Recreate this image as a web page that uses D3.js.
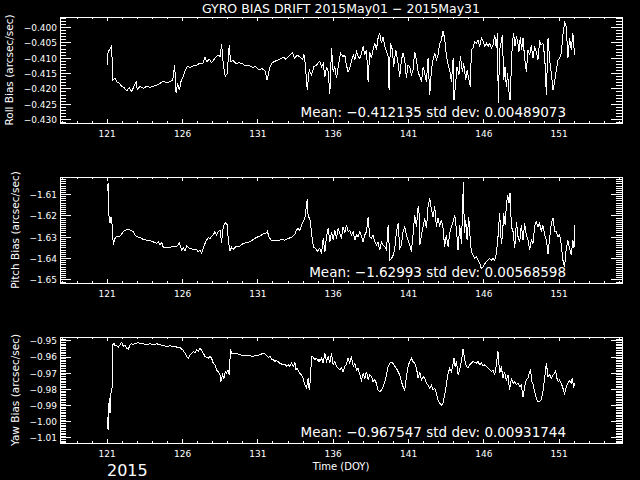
<!DOCTYPE html>
<html>
<head>
<meta charset="utf-8">
<script src="https://cdn.jsdelivr.net/npm/d3@7"></script>
<style>
  html, body { margin: 0; padding: 0; background: #000; }
  svg { display: block; background: #000; }
  text { font-family: "DejaVu Sans", sans-serif; fill: #fff; }
</style>
</head>
<body>
<svg id="chart" width="640" height="480"></svg>
<script>
const width = 640;
const height = 480;
const svg = d3.select('#chart');

// Labels and ticks
const titleText = 'GYRO BIAS DRIFT 2015May01 \u2212 2015May31';
const xLabel = 'Time (DOY)';
const yearLabel = '2015';
const xDomain = [117.9, 155.2];
const xTicks = [121, 126, 131, 136, 141, 146, 151];

const panelLabels = ['Roll Bias (arcsec/sec)', 'Pitch Bias (arcsec/sec)', 'Yaw Bias (arcsec/sec)'];
const meanValues = ['\u22120.412135', '\u22121.62993', '\u22120.967547'];
const stdValues = ['0.00489073', '0.00568598', '0.00931744'];

const rollDomain = [-0.4313, -0.3967];
const pitchDomain = [-1.6517, -1.602];
const yawDomain = [-1.0134, -0.9479];
const rollTicks = [-0.430, -0.425, -0.420, -0.415, -0.410, -0.405, -0.400];
const pitchTicks = [-1.65, -1.64, -1.63, -1.62, -1.61];
const yawTicks = [-1.01, -1.00, -0.99, -0.98, -0.97, -0.96, -0.95];

// Data: [day of year, bias]
const rollData = [
  [121.04,-0.4124],[121.07,-0.4085],[121.18,-0.4074],[121.33,-0.4061],[121.40,-0.4173],[121.55,-0.4167],[121.66,-0.4178],[121.84,-0.4184],
  [121.99,-0.4193],[122.15,-0.4197],[122.33,-0.4208],[122.50,-0.4197],[122.66,-0.4211],[122.81,-0.4193],[122.95,-0.4178],[123.03,-0.4203],
  [123.21,-0.4193],[123.43,-0.4200],[123.65,-0.4193],[123.87,-0.4197],[124.09,-0.4193],[124.32,-0.4189],[124.54,-0.4184],[124.76,-0.4176],
  [124.98,-0.4182],[125.20,-0.4178],[125.38,-0.4173],[125.51,-0.4124],[125.60,-0.4214],[125.71,-0.4184],[125.82,-0.4206],[125.95,-0.4173],
  [126.08,-0.4160],[126.22,-0.4140],[126.35,-0.4129],[126.53,-0.4131],[126.75,-0.4127],[126.97,-0.4124],[127.19,-0.4118],[127.37,-0.4120],
  [127.52,-0.4098],[127.63,-0.4113],[127.81,-0.4105],[127.96,-0.4116],[128.18,-0.4102],[128.40,-0.4091],[128.52,-0.4096],[128.63,-0.4056],
  [128.74,-0.4124],[128.87,-0.4160],[129.00,-0.4151],[129.13,-0.4058],[129.22,-0.4113],[129.40,-0.4109],[129.58,-0.4120],[129.80,-0.4116],
  [130.02,-0.4120],[130.24,-0.4127],[130.46,-0.4125],[130.68,-0.4131],[130.90,-0.4129],[131.12,-0.4140],[131.30,-0.4135],[131.50,-0.4142],
  [131.65,-0.4173],[131.79,-0.4138],[131.94,-0.4118],[132.10,-0.4113],[132.27,-0.4109],[132.49,-0.4105],[132.72,-0.4098],[132.89,-0.4105],
  [133.11,-0.4094],[133.33,-0.4083],[133.47,-0.4102],[133.64,-0.4091],[133.82,-0.4098],[134.00,-0.4105],[134.09,-0.4088],[134.17,-0.4118],
  [134.31,-0.4206],[134.44,-0.4140],[134.59,-0.4156],[134.75,-0.4129],[134.93,-0.4124],[135.10,-0.4113],
  [135.15,-0.4113],[135.26,-0.4129],[135.37,-0.4118],[135.48,-0.4162],[135.59,-0.4129],[135.70,-0.4146],[135.81,-0.4217],[135.92,-0.4069],
  [136.03,-0.4146],[136.14,-0.4129],[136.25,-0.4167],[136.36,-0.4129],[136.52,-0.4085],[136.69,-0.4096],[136.80,-0.4091],[136.91,-0.4124],
  [137.02,-0.4146],[137.13,-0.4135],[137.24,-0.4113],[137.36,-0.4091],[137.47,-0.4107],[137.58,-0.4080],[137.69,-0.4096],[137.80,-0.4102],
  [137.91,-0.4085],[138.02,-0.4063],[138.13,-0.4091],[138.24,-0.4074],[138.35,-0.4178],[138.46,-0.4080],[138.57,-0.4102],[138.68,-0.4074],
  [138.79,-0.4053],[138.90,-0.4074],[139.01,-0.4036],[139.12,-0.4020],[139.23,-0.4053],[139.34,-0.4031],[139.46,-0.4063],[139.57,-0.4080],
  [139.68,-0.4096],[139.74,-0.4206],[139.83,-0.4053],[139.96,-0.4074],[140.05,-0.4129],[140.19,-0.4074],[140.34,-0.4118],[140.45,-0.4162],
  [140.56,-0.4107],[140.67,-0.4085],[140.78,-0.4107],[140.89,-0.4167],[141.00,-0.4124],[141.11,-0.4129],[141.22,-0.4156],[141.33,-0.4140],
  [141.44,-0.4080],[141.56,-0.4107],[141.67,-0.4146],[141.78,-0.4162],[141.89,-0.4178],[142.00,-0.4129],[142.11,-0.4151],[142.22,-0.4178],
  [142.33,-0.4102],[142.44,-0.4222],[142.55,-0.4140],[142.66,-0.4107],[142.77,-0.4085],[142.88,-0.4107],[142.99,-0.4091],[143.10,-0.4053],
  [143.21,-0.4042],[143.32,-0.4014],[143.43,-0.4036],[143.54,-0.4091],[143.66,-0.4124],[143.77,-0.4140],[143.88,-0.4178],[143.99,-0.4102],
  [144.05,-0.4238],[144.14,-0.4195],[144.25,-0.4129],[144.38,-0.4156],[144.47,-0.4096],[144.61,-0.4146],[144.69,-0.4118],[144.83,-0.4173],
  [144.92,-0.4140],[145.05,-0.4173],[145.14,-0.4195],[145.20,-0.4074],[145.31,-0.4069],[145.42,-0.4047],[145.53,-0.4053],[145.64,-0.4042],
  [145.76,-0.4063],[145.87,-0.4036],[145.98,-0.4047],[146.09,-0.4063],[146.20,-0.4053],[146.31,-0.4063],[146.42,-0.4053],[146.53,-0.4069],
  [146.64,-0.4058],[146.75,-0.4025],[146.86,-0.4069],[146.93,-0.4020],[146.99,-0.4249],[147.08,-0.4074],[147.19,-0.4047],[147.26,-0.4025],
  [147.35,-0.4173],[147.44,-0.4129],[147.52,-0.4195],[147.61,-0.4151],[147.70,-0.4211],[147.77,-0.4238],[147.86,-0.4129],[147.92,-0.4053],
  [148.01,-0.4020],[148.10,-0.4063],[148.19,-0.4031],[148.28,-0.4047],[148.36,-0.4080],[148.45,-0.4031],[148.54,-0.4074],[148.63,-0.4036],
  [148.74,-0.4102],[148.85,-0.4146],[148.96,-0.4074],[149.07,-0.4091],[149.18,-0.4058],[149.29,-0.4102],[149.40,-0.4063],[149.51,-0.4080],
  [149.62,-0.4107],[149.73,-0.4047],[149.84,-0.4058],[149.95,-0.4053],[150.07,-0.4096],[150.18,-0.4222],[150.29,-0.4036],[150.40,-0.4107],
  [150.51,-0.4151],[150.62,-0.4206],[150.73,-0.4178],[150.84,-0.4140],[150.95,-0.4107],[151.06,-0.4102],[151.17,-0.4085],[151.28,-0.4025],
  [151.39,-0.3985],[151.50,-0.3998],[151.61,-0.4102],[151.72,-0.4036],[151.83,-0.4074],[151.94,-0.4020],[152.05,-0.4091]
];

const pitchData = [
  [121.04,-1.6087],[121.09,-1.6048],[121.13,-1.6190],[121.22,-1.6237],[121.29,-1.6206],[121.35,-1.6237],[121.44,-1.6339],[121.55,-1.6308],
  [121.66,-1.6297],[121.88,-1.6297],[122.11,-1.6276],[122.33,-1.6265],[122.55,-1.6269],[122.77,-1.6276],[122.88,-1.6292],[122.99,-1.6300],
  [123.21,-1.6303],[123.43,-1.6313],[123.65,-1.6316],[123.87,-1.6319],[124.09,-1.6324],[124.32,-1.6332],[124.43,-1.6324],[124.54,-1.6339],
  [124.65,-1.6328],[124.76,-1.6350],[124.98,-1.6350],[125.20,-1.6350],[125.42,-1.6344],[125.64,-1.6347],[125.82,-1.6328],[125.97,-1.6363],
  [126.08,-1.6350],[126.19,-1.6366],[126.31,-1.6344],[126.42,-1.6350],[126.53,-1.6355],[126.75,-1.6360],[126.97,-1.6360],[127.08,-1.6371],
  [127.19,-1.6363],[127.30,-1.6376],[127.41,-1.6355],[127.52,-1.6332],[127.63,-1.6316],[127.74,-1.6303],[127.85,-1.6308],[128.07,-1.6292],
  [128.18,-1.6276],[128.29,-1.6292],[128.40,-1.6276],[128.52,-1.6269],[128.63,-1.6328],[128.69,-1.6276],[128.78,-1.6245],[128.91,-1.6234],
  [129.00,-1.6245],[129.07,-1.6316],[129.18,-1.6366],[129.29,-1.6350],[129.40,-1.6360],[129.51,-1.6350],[129.62,-1.6344],[129.84,-1.6344],
  [130.06,-1.6332],[130.28,-1.6328],[130.50,-1.6324],[130.73,-1.6313],[130.95,-1.6303],[131.17,-1.6297],[131.39,-1.6287],[131.61,-1.6281],
  [131.68,-1.6272],[131.72,-1.6292],[131.83,-1.6308],[131.94,-1.6319],[132.16,-1.6316],[132.38,-1.6319],[132.60,-1.6313],[132.83,-1.6316],
  [133.05,-1.6308],[133.27,-1.6303],[133.49,-1.6287],[133.60,-1.6269],[133.71,-1.6261],[133.82,-1.6272],[133.93,-1.6245],[134.04,-1.6229],
  [134.15,-1.6213],[134.22,-1.6174],[134.31,-1.6124],[134.37,-1.6206],[134.48,-1.6213],[134.59,-1.6276],[134.66,-1.6324],[134.75,-1.6350],
  [134.88,-1.6355],[134.97,-1.6371],[135.10,-1.6355],
  [135.15,-1.6355],[135.26,-1.6379],[135.37,-1.6308],[135.48,-1.6371],[135.59,-1.6300],[135.70,-1.6261],[135.81,-1.6324],[135.92,-1.6276],
  [136.03,-1.6316],[136.14,-1.6269],[136.25,-1.6308],[136.36,-1.6261],[136.47,-1.6284],[136.58,-1.6308],[136.69,-1.6253],[136.80,-1.6284],
  [136.91,-1.6245],[137.02,-1.6276],[137.13,-1.6269],[137.24,-1.6292],[137.36,-1.6276],[137.47,-1.6316],[137.58,-1.6292],[137.69,-1.6300],
  [137.80,-1.6276],[137.91,-1.6300],[138.02,-1.6324],[138.13,-1.6292],[138.24,-1.6276],[138.35,-1.6206],[138.46,-1.6300],[138.57,-1.6308],
  [138.68,-1.6292],[138.79,-1.6324],[138.90,-1.6339],[139.01,-1.6324],[139.12,-1.6363],[139.23,-1.6324],[139.34,-1.6339],[139.46,-1.6347],
  [139.57,-1.6363],[139.68,-1.6245],[139.79,-1.6410],[139.90,-1.6402],[140.01,-1.6387],[140.12,-1.6355],[140.23,-1.6276],[140.34,-1.6237],
  [140.45,-1.6355],[140.56,-1.6339],[140.67,-1.6276],[140.78,-1.6253],[140.89,-1.6292],[141.00,-1.6316],[141.11,-1.6339],[141.22,-1.6371],
  [141.33,-1.6292],[141.44,-1.6198],[141.56,-1.6253],[141.67,-1.6158],[141.73,-1.6190],[141.78,-1.6339],[141.89,-1.6292],[142.00,-1.6253],
  [142.11,-1.6213],[142.22,-1.6261],[142.33,-1.6158],[142.44,-1.6119],[142.55,-1.6174],[142.66,-1.6206],[142.77,-1.6158],[142.88,-1.6253],
  [142.99,-1.6213],[143.10,-1.6253],[143.21,-1.6221],[143.32,-1.6261],[143.43,-1.6347],[143.54,-1.6292],[143.66,-1.6347],[143.77,-1.6284],
  [143.88,-1.6253],[143.99,-1.6229],[144.10,-1.6198],[144.21,-1.6269],[144.32,-1.6363],[144.43,-1.6245],[144.54,-1.6332],[144.61,-1.6198],
  [144.67,-1.6045],[144.74,-1.6284],[144.83,-1.6221],[144.92,-1.6316],[145.03,-1.6206],[145.09,-1.6276],[145.20,-1.6371],[145.31,-1.6387],
  [145.42,-1.6402],[145.53,-1.6395],[145.64,-1.6410],[145.76,-1.6426],[145.87,-1.6450],[145.98,-1.6442],[146.09,-1.6426],[146.20,-1.6418],
  [146.31,-1.6410],[146.42,-1.6402],[146.53,-1.6410],[146.64,-1.6402],[146.75,-1.6410],[146.86,-1.6379],[146.97,-1.6300],[147.08,-1.6190],
  [147.19,-1.6332],[147.26,-1.6300],[147.35,-1.6190],[147.44,-1.6245],[147.52,-1.6158],[147.61,-1.6103],[147.70,-1.6143],[147.77,-1.6095],
  [147.86,-1.6253],[147.97,-1.6276],[148.08,-1.6355],[148.19,-1.6229],[148.30,-1.6300],[148.41,-1.6324],[148.52,-1.6245],[148.63,-1.6316],
  [148.74,-1.6237],[148.85,-1.6292],[148.96,-1.6316],[149.07,-1.6363],[149.18,-1.6316],[149.29,-1.6332],[149.40,-1.6253],[149.51,-1.6229],
  [149.62,-1.6253],[149.73,-1.6237],[149.84,-1.6276],[149.95,-1.6245],[150.07,-1.6292],[150.18,-1.6316],[150.29,-1.6379],[150.40,-1.6308],
  [150.51,-1.6237],[150.62,-1.6213],[150.73,-1.6276],[150.84,-1.6276],[150.95,-1.6300],[151.06,-1.6292],[151.17,-1.6339],[151.28,-1.6410],
  [151.39,-1.6442],[151.50,-1.6355],[151.61,-1.6316],[151.72,-1.6355],[151.83,-1.6387],[151.94,-1.6316],[152.01,-1.6355],[152.08,-1.6245]
];

const yawData = [
  [121.04,-0.9972],[121.09,-1.0055],[121.13,-0.9910],[121.18,-0.9858],[121.22,-0.9951],[121.29,-0.9817],[121.35,-0.9806],[121.40,-0.9527],
  [121.49,-0.9517],[121.55,-0.9533],[121.66,-0.9533],[121.77,-0.9541],[121.88,-0.9527],[121.99,-0.9512],[122.11,-0.9537],[122.22,-0.9533],
  [122.33,-0.9548],[122.44,-0.9554],[122.55,-0.9527],[122.66,-0.9521],[122.77,-0.9527],[122.88,-0.9517],[122.99,-0.9517],[123.10,-0.9512],
  [123.21,-0.9521],[123.43,-0.9521],[123.65,-0.9527],[123.87,-0.9521],[124.09,-0.9527],[124.32,-0.9521],[124.54,-0.9527],[124.76,-0.9533],
  [124.98,-0.9537],[125.20,-0.9533],[125.42,-0.9537],[125.64,-0.9541],[125.86,-0.9541],[125.97,-0.9554],[126.08,-0.9562],[126.19,-0.9579],
  [126.31,-0.9599],[126.42,-0.9610],[126.53,-0.9589],[126.64,-0.9579],[126.75,-0.9568],[126.86,-0.9579],[126.97,-0.9558],[127.08,-0.9568],
  [127.19,-0.9548],[127.30,-0.9562],[127.41,-0.9579],[127.52,-0.9599],[127.63,-0.9604],[127.74,-0.9610],[127.85,-0.9599],[127.96,-0.9610],
  [128.07,-0.9641],[128.18,-0.9651],[128.29,-0.9682],[128.40,-0.9693],[128.52,-0.9713],[128.58,-0.9755],[128.69,-0.9713],[128.78,-0.9734],
  [128.87,-0.9693],[128.96,-0.9703],[129.05,-0.9682],[129.13,-0.9713],[129.22,-0.9554],[129.29,-0.9579],[129.40,-0.9583],[129.62,-0.9579],
  [129.84,-0.9589],[130.06,-0.9595],[130.28,-0.9595],[130.50,-0.9595],[130.73,-0.9599],[130.84,-0.9589],[130.95,-0.9595],[131.17,-0.9589],
  [131.39,-0.9579],[131.50,-0.9583],[131.61,-0.9595],[131.72,-0.9604],[131.83,-0.9599],[131.94,-0.9616],[132.05,-0.9620],[132.16,-0.9630],
  [132.27,-0.9624],[132.49,-0.9641],[132.72,-0.9651],[132.83,-0.9645],[132.94,-0.9661],[133.05,-0.9651],[133.16,-0.9661],[133.27,-0.9641],
  [133.38,-0.9661],[133.49,-0.9637],[133.56,-0.9682],[133.64,-0.9672],[133.82,-0.9703],[133.93,-0.9713],[134.04,-0.9734],[134.15,-0.9775],
  [134.26,-0.9796],[134.37,-0.9734],[134.44,-0.9806],[134.53,-0.9734],[134.59,-0.9599],[134.70,-0.9604],[134.81,-0.9620],[134.93,-0.9610],
  [135.04,-0.9630],[135.10,-0.9616],
  [135.15,-0.9630],[135.26,-0.9610],[135.37,-0.9641],[135.48,-0.9579],[135.59,-0.9630],[135.70,-0.9599],[135.81,-0.9641],[135.92,-0.9579],
  [136.03,-0.9651],[136.14,-0.9630],[136.25,-0.9661],[136.36,-0.9672],[136.47,-0.9682],[136.58,-0.9672],[136.69,-0.9693],[136.80,-0.9661],
  [136.91,-0.9651],[137.02,-0.9610],[137.13,-0.9641],[137.24,-0.9599],[137.36,-0.9661],[137.47,-0.9641],[137.58,-0.9682],[137.69,-0.9672],
  [137.80,-0.9713],[137.91,-0.9744],[138.02,-0.9703],[138.13,-0.9734],[138.24,-0.9693],[138.35,-0.9744],[138.46,-0.9713],[138.57,-0.9724],
  [138.68,-0.9755],[138.79,-0.9744],[138.90,-0.9765],[139.01,-0.9806],[139.12,-0.9817],[139.23,-0.9806],[139.34,-0.9786],[139.46,-0.9755],
  [139.57,-0.9713],[139.68,-0.9661],[139.79,-0.9641],[139.90,-0.9637],[140.01,-0.9641],[140.12,-0.9661],[140.23,-0.9672],[140.34,-0.9693],
  [140.45,-0.9713],[140.56,-0.9755],[140.67,-0.9786],[140.78,-0.9806],[140.89,-0.9724],[141.00,-0.9661],[141.11,-0.9630],[141.22,-0.9610],
  [141.33,-0.9630],[141.44,-0.9641],[141.56,-0.9672],[141.67,-0.9734],[141.78,-0.9693],[141.89,-0.9744],[142.00,-0.9724],[142.11,-0.9734],
  [142.22,-0.9765],[142.33,-0.9775],[142.44,-0.9796],[142.55,-0.9775],[142.66,-0.9806],[142.77,-0.9796],[142.88,-0.9827],[142.99,-0.9868],
  [143.10,-0.9889],[143.21,-0.9900],[143.32,-0.9889],[143.43,-0.9837],[143.54,-0.9775],[143.66,-0.9703],[143.77,-0.9672],[143.88,-0.9693],
  [143.99,-0.9641],[144.05,-0.9610],[144.12,-0.9661],[144.21,-0.9630],[144.32,-0.9713],[144.43,-0.9682],[144.54,-0.9630],[144.65,-0.9554],
  [144.76,-0.9620],[144.87,-0.9661],[144.98,-0.9672],[145.09,-0.9651],[145.20,-0.9641],[145.31,-0.9630],[145.42,-0.9637],[145.53,-0.9641],
  [145.64,-0.9630],[145.76,-0.9651],[145.87,-0.9641],[145.98,-0.9657],[146.09,-0.9651],[146.20,-0.9661],[146.31,-0.9672],[146.42,-0.9682],
  [146.53,-0.9693],[146.64,-0.9682],[146.75,-0.9713],[146.86,-0.9651],[146.97,-0.9568],[147.08,-0.9703],[147.19,-0.9661],[147.30,-0.9734],
  [147.41,-0.9693],[147.52,-0.9744],[147.63,-0.9713],[147.74,-0.9806],[147.86,-0.9734],[147.97,-0.9765],[148.08,-0.9755],[148.19,-0.9775],
  [148.30,-0.9765],[148.41,-0.9786],[148.52,-0.9775],[148.63,-0.9848],[148.74,-0.9786],[148.85,-0.9744],[148.96,-0.9734],[149.07,-0.9693],
  [149.14,-0.9678],[149.20,-0.9755],[149.29,-0.9765],[149.40,-0.9817],[149.51,-0.9858],[149.62,-0.9879],[149.73,-0.9879],[149.84,-0.9868],
  [149.95,-0.9817],[150.07,-0.9734],[150.18,-0.9641],[150.29,-0.9724],[150.40,-0.9713],[150.51,-0.9734],[150.62,-0.9713],[150.73,-0.9703],
  [150.79,-0.9686],[150.88,-0.9734],[150.97,-0.9755],[151.06,-0.9744],[151.17,-0.9765],[151.28,-0.9796],[151.39,-0.9831],[151.50,-0.9786],
  [151.61,-0.9765],[151.72,-0.9748],[151.83,-0.9765],[151.90,-0.9734],[151.99,-0.9786],[152.08,-0.9765]
];

const panels = [
  { data: rollData, domain: rollDomain, ticks: rollTicks, fmt: '.3f', labelX: 13 },
  { data: pitchData, domain: pitchDomain, ticks: pitchTicks, fmt: '.2f', labelX: 19 },
  { data: yawData, domain: yawDomain, ticks: yawTicks, fmt: '.2f', labelX: 19 }
];

// layout
const left = 60, right = 622;
const panelH = 106;
const panelTops = [17, 177, 337];

const x = d3.scaleLinear().domain(xDomain).range([left, right]);
const xMinor = d3.range(Math.ceil(xDomain[0]), Math.floor(xDomain[1]) + 1);

svg.append('text')
  .attr('x', (left + right) / 2)
  .attr('y', 13)
  .attr('text-anchor', 'middle')
  .style('font-size', '12.5px')
  .text(titleText);

panels.forEach((p, i) => {
  const top = panelTops[i];
  const bottom = top + panelH;
  const y = d3.scaleLinear().domain(p.domain).range([bottom, top]);
  const yMinor = d3.range(Math.ceil(p.domain[0] / 0.001 - 1e-6), Math.floor(p.domain[1] / 0.001 + 1e-6) + 1)
    .map(k => +(k * 0.001).toFixed(3));

  const g = svg.append('g');

  // minor ticks
  g.append('g').attr('transform', `translate(${left},0)`)
    .call(d3.axisLeft(y).tickValues(yMinor).tickSize(-6).tickFormat(''));
  g.append('g').attr('transform', `translate(${right},0)`)
    .call(d3.axisRight(y).tickValues(yMinor).tickSize(-6).tickFormat(''));
  g.append('g').attr('transform', `translate(0,${bottom})`)
    .call(d3.axisBottom(x).tickValues(xMinor).tickSize(-2).tickFormat(''));
  g.append('g').attr('transform', `translate(0,${top})`)
    .call(d3.axisTop(x).tickValues(xMinor).tickSize(-2).tickFormat(''));

  // major ticks
  g.append('g').attr('transform', `translate(${left},0)`)
    .call(d3.axisLeft(y).tickValues(p.ticks).tickSize(-11).tickPadding(3).tickFormat(d3.format(p.fmt)))
    .selectAll('text').style('font-size', '9px').attr('dy', '0.37em');
  g.append('g').attr('transform', `translate(${right},0)`)
    .call(d3.axisRight(y).tickValues(p.ticks).tickSize(-11).tickFormat(''));
  g.append('g').attr('transform', `translate(0,${bottom})`)
    .call(d3.axisBottom(x).tickValues(xTicks).tickSize(-4).tickPadding(7.5).tickFormat(d3.format('d')))
    .selectAll('text').style('font-size', '9px');
  g.append('g').attr('transform', `translate(0,${top})`)
    .call(d3.axisTop(x).tickValues(xTicks).tickSize(-4).tickFormat(''));

  g.selectAll('.domain').remove();
  g.selectAll('line').attr('stroke', '#fff').attr('shape-rendering', 'crispEdges');
  g.selectAll('.tick text').attr('fill', '#fff').style('font-family', '"DejaVu Sans", sans-serif');

  // frame
  g.append('rect')
    .attr('x', left + 0.5).attr('y', top + 0.5)
    .attr('width', right - left).attr('height', panelH)
    .attr('fill', 'none').attr('stroke', '#fff')
    .attr('shape-rendering', 'crispEdges');

  // series
  g.append('path')
    .datum(p.data)
    .attr('fill', 'none')
    .attr('stroke', '#fff')
    .attr('stroke-width', 1)
    .attr('shape-rendering', 'crispEdges')
    .attr('d', d3.line().x(d => x(d[0])).y(d => y(d[1])));

  // y title
  g.append('text')
    .attr('transform', `translate(${p.labelX},${(top + bottom) / 2}) rotate(-90)`)
    .attr('text-anchor', 'middle')
    .style('font-size', '10.5px')
    .text(panelLabels[i]);

  // stats
  g.append('text')
    .attr('x', 566)
    .attr('y', top + 100)
    .attr('text-anchor', 'end')
    .style('font-size', '13.5px')
    .text(`Mean: ${meanValues[i]} std dev: ${stdValues[i]}`);
});

svg.append('text')
  .attr('x', (left + right) / 2)
  .attr('y', 470)
  .attr('text-anchor', 'middle')
  .style('font-size', '10px')
  .text(xLabel);

svg.append('text')
  .attr('x', 107)
  .attr('y', 476)
  .style('font-size', '16px')
  .text(yearLabel);
</script>
</body>
</html>
